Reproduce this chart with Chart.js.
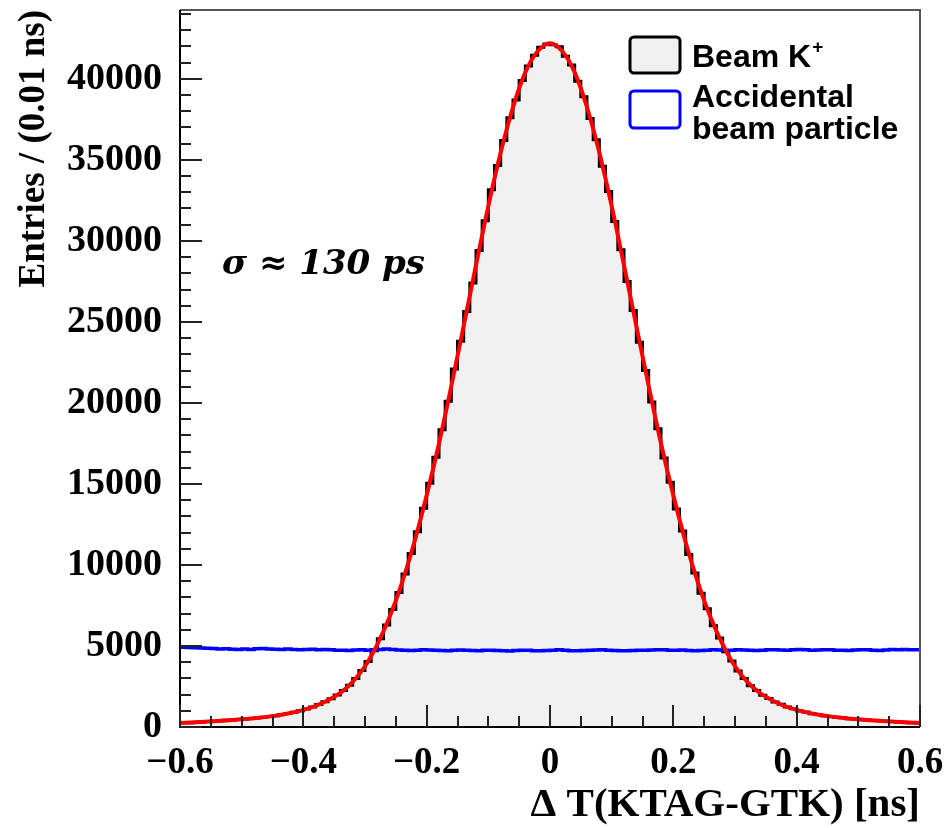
<!DOCTYPE html>
<html>
<head>
<meta charset="utf-8">
<script src="https://cdn.jsdelivr.net/npm/chart.js@4.4.0/dist/chart.umd.min.js"></script>
<style>
  html, body { margin: 0; padding: 0; background: #fff; }
</style>
</head>
<body>
<canvas id="chart" width="945" height="828"></canvas>
<script>
// histogram range, 0.01 ns bins
const xMin = -0.6, xMax = 0.6, binWidth = 0.01;

// Beam K+ entries per bin (left edge -0.6 ... 0.59)
const beamKaon = [
  255, 270, 290, 310, 335, 355, 380, 410, 430, 465,
  490, 525, 560, 600, 650, 700, 765, 830, 915, 1000,
  1110, 1240, 1390, 1560, 1750, 1980, 2250, 2580, 2990, 3480,
  4050, 4700, 5450, 6300, 7250, 8300, 9450, 10700, 12050, 13500,
  15050, 16650, 18350, 20100, 22100, 23800, 25650, 27400, 29400, 31250,
  33150, 34650, 36200, 37600, 38700, 39900, 40800, 41450, 41950, 42150,
  42100, 41980, 41400, 40850, 39850, 38900, 37550, 36250, 34600, 33050,
  31200, 29450, 27500, 25700, 23750, 22000, 20050, 18400, 16600, 15100,
  13450, 12100, 10650, 9500, 8250, 7300, 6250, 5500, 4650, 4080,
  3450, 3000, 2550, 2260, 1960, 1760, 1540, 1400, 1230, 1120,
  990, 920, 820, 770, 690, 655, 595, 565, 515, 495,
  455, 435, 400, 385, 350, 340, 310, 295, 270, 250
];

// Accidental beam particle entries per bin
const accidental = [
  4920, 4910, 4890, 4880, 4860, 4850, 4820, 4830, 4800, 4780, 4810, 4790,
  4830, 4850, 4820, 4800, 4790, 4810, 4780, 4760, 4790, 4800, 4770, 4780,
  4760, 4740, 4730, 4720, 4750, 4770, 4740, 4760, 4790, 4810, 4780, 4750,
  4730, 4720, 4740, 4760, 4750, 4730, 4720, 4700, 4730, 4750, 4740, 4720,
  4710, 4730, 4740, 4720, 4700, 4690, 4720, 4740, 4730, 4710, 4700, 4720,
  4740, 4760, 4730, 4710, 4700, 4720, 4730, 4750, 4760, 4740, 4720, 4710,
  4700, 4720, 4740, 4730, 4750, 4770, 4760, 4740, 4730, 4750, 4720, 4700,
  4720, 4740, 4760, 4750, 4730, 4740, 4760, 4750, 4730, 4720, 4740, 4760,
  4770, 4750, 4740, 4760, 4780, 4760, 4740, 4750, 4770, 4760, 4740, 4730,
  4720, 4750, 4770, 4760, 4740, 4720, 4750, 4780, 4770, 4790, 4760, 4770
];

// fit curve sampled every 0.02 ns
const fitX = [
  -0.60, -0.58, -0.56, -0.54, -0.52, -0.50, -0.48, -0.46, -0.44, -0.42,
  -0.40, -0.38, -0.36, -0.34, -0.32, -0.30, -0.28, -0.26, -0.24, -0.22,
  -0.20, -0.18, -0.16, -0.14, -0.12, -0.10, -0.08, -0.06, -0.04, -0.02,
  0.00, 0.02, 0.04, 0.06, 0.08, 0.10, 0.12, 0.14, 0.16, 0.18,
  0.20, 0.22, 0.24, 0.26, 0.28, 0.30, 0.32, 0.34, 0.36, 0.38,
  0.40, 0.42, 0.44, 0.46, 0.48, 0.50, 0.52, 0.54, 0.56, 0.58, 0.60
];
const fitY = [
  250, 285, 325, 370, 420, 475, 540, 625, 730, 870,
  1060, 1310, 1650, 2100, 2780, 3750, 5100, 6800, 8900, 11400,
  14300, 17500, 21050, 24750, 28500, 32150, 35450, 38250, 40400, 41700,
  42200, 41700, 40400, 38250, 35450, 32150, 28500, 24750, 21050, 17500,
  14300, 11400, 8900, 6800, 5100, 3750, 2780, 2100, 1650, 1310,
  1060, 870, 730, 625, 540, 475, 420, 370, 325, 285, 250
];

const xTicks = [-0.6, -0.4, -0.2, 0, 0.2, 0.4, 0.6];
const yTicks = [0, 5000, 10000, 15000, 20000, 25000, 30000, 35000, 40000];
const yMax = 44250;

// step histogram points from bin edges
function histPoints(values) {
  const pts = values.map((v, i) => ({ x: xMin + i * binWidth, y: v }));
  pts.push({ x: xMax, y: values[values.length - 1] });
  return pts;
}

const serifBold = '"Liberation Serif", "Times New Roman", serif';

// keep the plot frame fixed: no label overhang padding
function noOverhang(s) {
  s.paddingTop = 0; s.paddingBottom = 0; s.paddingLeft = 0; s.paddingRight = 0;
}

// ROOT-like frame with inward ticks
const frameTicks = {
  id: 'frameTicks',
  afterDraw(chart) {
    const { ctx, chartArea: a, scales: { x, y } } = chart;
    ctx.save();
    ctx.strokeStyle = '#555';
    ctx.lineWidth = 2;
    ctx.beginPath();
    ctx.moveTo(a.left, a.top); ctx.lineTo(a.right, a.top); ctx.lineTo(a.right, a.bottom);
    ctx.stroke();
    ctx.strokeStyle = '#000';
    ctx.beginPath();
    ctx.moveTo(a.left, a.top); ctx.lineTo(a.left, a.bottom); ctx.lineTo(a.right, a.bottom);
    ctx.stroke();
    ctx.lineWidth = 2;
    ctx.strokeStyle = '#222';
    for (let v = 0; v <= yMax; v += 1000) {
      const py = Math.round(y.getPixelForValue(v));
      const len = v % 5000 === 0 ? 22 : 11;
      ctx.beginPath(); ctx.moveTo(a.left, py); ctx.lineTo(a.left + len, py); ctx.stroke();
    }
    for (let k = -12; k <= 12; k++) {
      const v = k * 0.05;
      const px = Math.round(x.getPixelForValue(v));
      const len = k % 4 === 0 ? 22 : 11;
      ctx.beginPath(); ctx.moveTo(px, a.bottom); ctx.lineTo(px, a.bottom - len); ctx.stroke();
    }
    ctx.restore();
  }
};

const legendAndLabel = {
  id: 'legendAndLabel',
  afterDraw(chart) {
    const { ctx } = chart;
    ctx.save();
    function box(x0, y0, w, h, fill, stroke) {
      ctx.beginPath();
      ctx.roundRect(x0, y0, w, h, 4);
      ctx.fillStyle = fill; ctx.fill();
      ctx.lineWidth = 3; ctx.strokeStyle = stroke; ctx.stroke();
    }
    box(630, 37, 50, 36, '#f0f0f0', '#000');
    box(630, 91, 50, 37, '#fff', '#0000ff');
    ctx.fillStyle = '#000';
    ctx.textBaseline = 'alphabetic';
    ctx.font = 'bold 32px "Liberation Sans", Arial, sans-serif';
    ctx.fillText('Beam K', 692, 67);
    const w = ctx.measureText('Beam K').width;
    ctx.font = 'bold 19px "Liberation Sans", Arial, sans-serif';
    ctx.fillText('+', 692 + w + 1, 53);
    ctx.font = 'bold 32px "Liberation Sans", Arial, sans-serif';
    ctx.fillText('Accidental', 692, 107);
    ctx.fillText('beam particle', 692, 139);
    ctx.font = 'italic bold 34px "DejaVu Serif", serif';
    ctx.fillText('\u03c3 \u2248 130 ps', 222, 274);
    ctx.restore();
  }
};

new Chart(document.getElementById('chart'), {
  type: 'line',
  data: {
    datasets: [
      {
        label: 'Fit',
        data: fitX.map((v, i) => ({ x: v, y: fitY[i] })),
        borderColor: '#ff0000',
        borderWidth: 4,
        pointRadius: 0,
        cubicInterpolationMode: 'monotone',
        fill: false,
        order: 0
      },
      {
        label: 'Accidental beam particle',
        data: histPoints(accidental),
        borderColor: '#0000ff',
        borderWidth: 3.5,
        pointRadius: 0,
        stepped: 'before',
        fill: false,
        order: 1
      },
      {
        label: 'Beam K+',
        data: histPoints(beamKaon),
        borderColor: '#000',
        backgroundColor: '#f0f0f0',
        borderWidth: 3,
        pointRadius: 0,
        stepped: 'before',
        fill: 'origin',
        order: 2
      }
    ]
  },
  options: {
    responsive: false,
    animation: false,
    layout: { padding: { top: 10, right: 25, left: 0, bottom: 0 } },
    plugins: { legend: { display: false }, tooltip: { enabled: false } },
    scales: {
      x: {
        type: 'linear',
        min: xMin,
        max: xMax,
        afterBuildTicks: s => { s.ticks = xTicks.map(v => ({ value: v })); },
        afterFit: s => { s.height = 101; noOverhang(s); },
        grid: { display: false, drawTicks: false },
        border: { display: false },
        ticks: {
          color: '#000',
          padding: 14,
          maxRotation: 0,
          autoSkip: false,
          font: { family: serifBold, size: 37, weight: 'bold' },
          callback: v => {
            const r = Math.round(v * 10) / 10;
            if (r === 0) return '0';
            return r < 0 ? '\u2212' + (-r).toFixed(1) : r.toFixed(1);
          }
        },
        title: {
          display: true,
          text: '\u0394 T(KTAG-GTK) [ns]',
          align: 'end',
          color: '#000',
          padding: { top: 0, bottom: 0 },
          font: { family: serifBold, size: 41, weight: 'bold', lineHeight: 1.1 }
        }
      },
      y: {
        min: 0,
        max: yMax,
        afterBuildTicks: s => { s.ticks = yTicks.map(v => ({ value: v })); },
        afterFit: s => { s.width = 180; noOverhang(s); },
        grid: { display: false, drawTicks: false },
        border: { display: false },
        ticks: {
          color: '#000',
          padding: 18,
          autoSkip: false,
          font: { family: serifBold, size: 38, weight: 'bold' },
          callback: v => String(v)
        },
        title: {
          display: true,
          text: 'Entries / (0.01 ns)',
          align: 'end',
          color: '#000',
          padding: { top: 12, bottom: 0 },
          font: { family: serifBold, size: 37, weight: 'bold', lineHeight: 1.2 }
        }
      }
    }
  },
  plugins: [frameTicks, legendAndLabel]
});
</script>
</body>
</html>
